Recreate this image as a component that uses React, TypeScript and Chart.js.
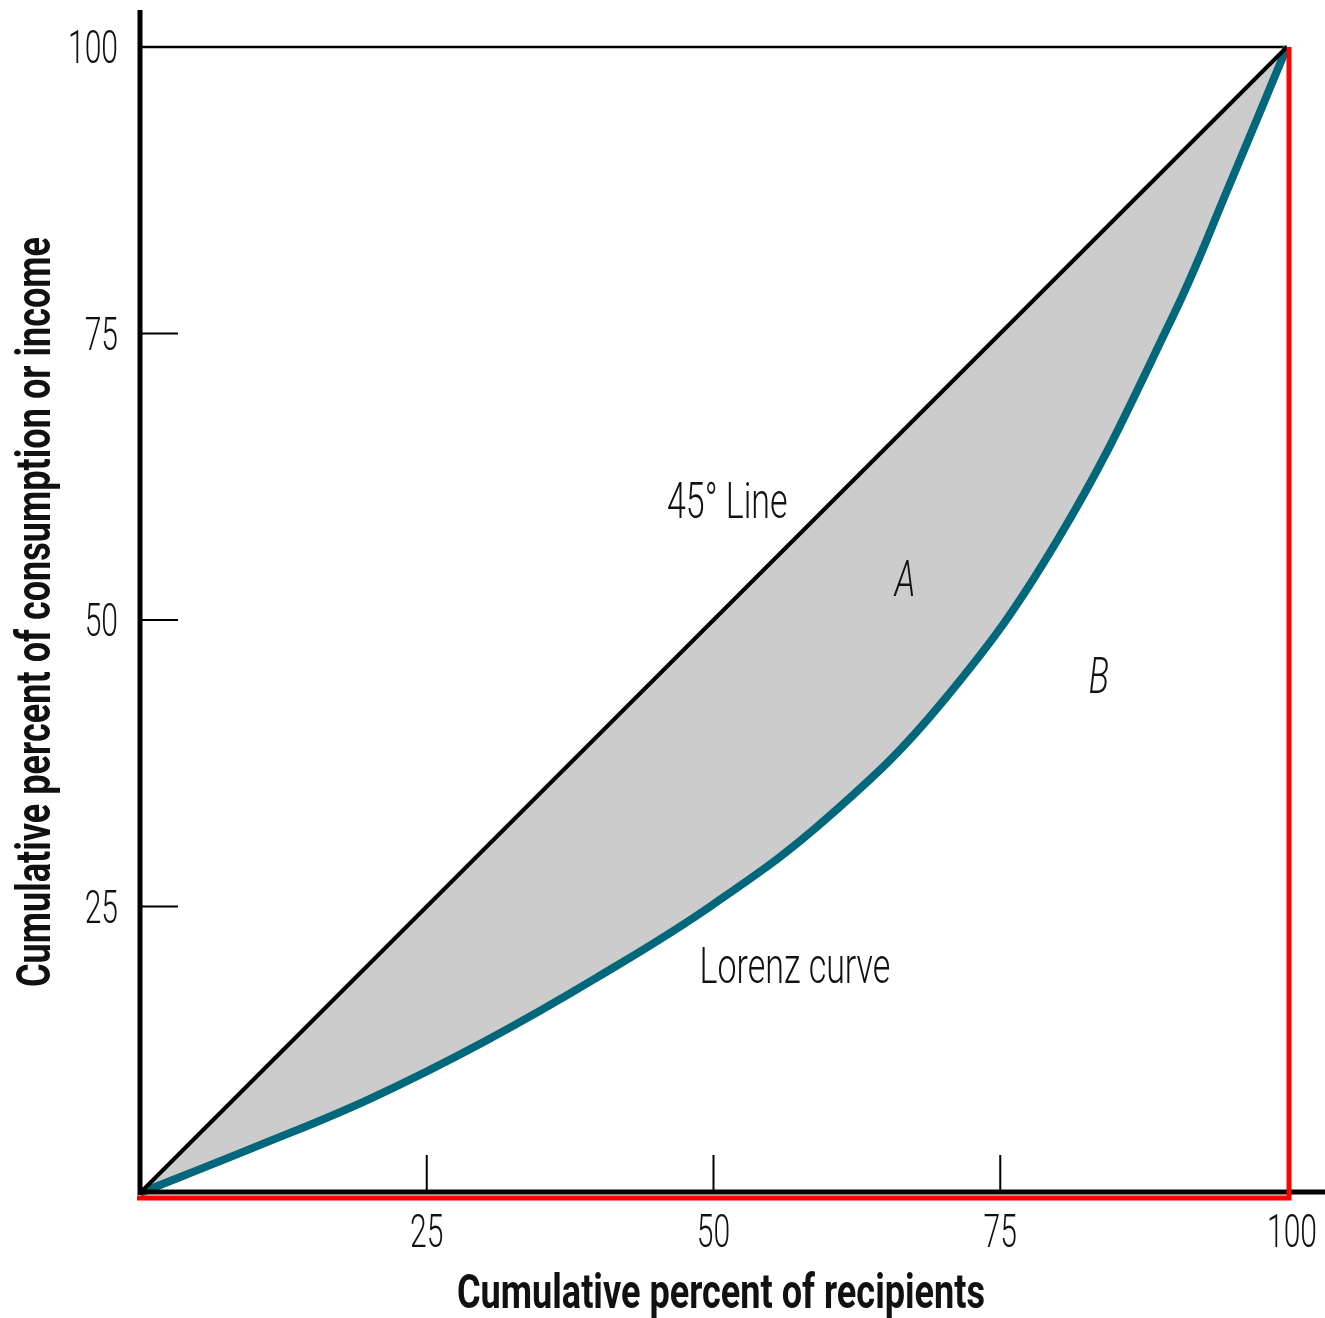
import { useEffect, useRef } from "react";
import { Chart, registerables } from "chart.js";

Chart.register(...registerables);

// ---- data ----
const lorenzX = [0, 10, 20, 30, 40, 50, 60, 70, 80, 90, 95, 100];
const lorenzY = [0, 4.0, 8.2, 13.2, 18.9, 25.2, 32.8, 42.9, 57.0, 76.4, 88.0, 100];
const equalityX = [0, 100];
const equalityY = [0, 100];
const topLineX = [0, 100];
const topLineY = [100, 100];
const xTickValues = [25, 50, 75, 100];
const yTickValues = [25, 50, 75, 100];
const xTitle = "Cumulative percent of recipients";
const yTitle = "Cumulative percent of consumption or income";
const noteTexts = ["45° Line", "A", "B", "Lorenz curve"];
const noteX = [51.2, 66.7, 83.6, 57.1];
const noteY = [60.5, 53.7, 45.2, 19.9];
const noteItalic = [false, true, true, false];

const pts = (xs: number[], ys: number[]) => xs.map((x, i) => ({ x, y: ys[i] }));

const THIN = "Roboto";

const decorPlugin = {
  id: "decor",
  afterDatasetsDraw(chart: any) {
    const { ctx, scales } = chart;
    const xs = scales.x;
    const ys = scales.y;
    const x0 = xs.getPixelForValue(0);
    const x100 = xs.getPixelForValue(100);
    const y0 = ys.getPixelForValue(0);
    const y100 = ys.getPixelForValue(100);
    ctx.save();
    ctx.lineCap = "butt";
    // axes
    ctx.strokeStyle = "#000";
    ctx.lineWidth = 5;
    ctx.beginPath();
    ctx.moveTo(x0, 10);
    ctx.lineTo(x0, y0 + 2);
    ctx.stroke();
    ctx.beginPath();
    ctx.moveTo(x0 - 2, y0 - 1);
    ctx.lineTo(chart.width, y0 - 1);
    ctx.stroke();
    // inner ticks
    ctx.lineWidth = 2;
    yTickValues.forEach((v) => {
      if (v >= 100) return;
      const py = ys.getPixelForValue(v);
      ctx.beginPath();
      ctx.moveTo(x0 + 2, py);
      ctx.lineTo(x0 + 38, py);
      ctx.stroke();
    });
    xTickValues.forEach((v) => {
      if (v >= 100) return;
      const px = xs.getPixelForValue(v);
      ctx.beginPath();
      ctx.moveTo(px, y0 - 3);
      ctx.lineTo(px, y0 - 38);
      ctx.stroke();
    });
    // red frame
    ctx.strokeStyle = "#ff0000";
    ctx.lineWidth = 5;
    ctx.lineJoin = "miter";
    ctx.beginPath();
    ctx.moveTo(x0 - 3, y0 + 5);
    ctx.lineTo(x100 + 2, y0 + 5);
    ctx.lineTo(x100 + 2, y100);
    ctx.stroke();

    // texts
    ctx.fillStyle = "#111";
    ctx.font = `300 46px ${THIN}`;
    const sxThin = 50 / ctx.measureText("100").width;
    ctx.font = `bold 48px ${THIN}`;
    const sxBold = 528 / ctx.measureText(xTitle).width;

    const draw = (
      text: string,
      cx: number,
      by: number,
      font: string,
      sx: number,
      align: CanvasTextAlign,
      rotate = false
    ) => {
      ctx.save();
      ctx.translate(cx, by);
      if (rotate) ctx.rotate(-Math.PI / 2);
      ctx.scale(sx, 1);
      ctx.font = font;
      ctx.textAlign = align;
      ctx.textBaseline = "alphabetic";
      ctx.fillText(text, 0, 0);
      ctx.restore();
    };

    yTickValues.forEach((v) => {
      const py = ys.getPixelForValue(v);
      draw(String(v), 118, py + 16, `300 46px ${THIN}`, sxThin, "right");
    });
    xTickValues.forEach((v) => {
      const px = xs.getPixelForValue(v);
      draw(String(v), px + (v === 100 ? 5 : 0), y0 + 54, `300 46px ${THIN}`, sxThin, "center");
    });
    draw(xTitle, 721, 1308, `bold 48px ${THIN}`, sxBold, "center");
    draw(yTitle, 50, 612, `bold 48px ${THIN}`, sxBold, "center", true);

    noteTexts.forEach((t, i) => {
      const px = xs.getPixelForValue(noteX[i]);
      const py = ys.getPixelForValue(noteY[i]);
      const f = `${noteItalic[i] ? "italic " : ""}300 50px ${THIN}`;
      draw(t, px, py + 18, f, sxThin * 1.04, "center");
    });
    ctx.restore();
  },
};

export default function App() {
  const ref = useRef<HTMLCanvasElement | null>(null);
  useEffect(() => {
    if (!ref.current) return;
    const chart = new Chart(ref.current, {
      type: "line",
      data: {
        datasets: [
          {
            label: "45° Line",
            data: pts(equalityX, equalityY),
            borderColor: "#000",
            borderWidth: 4,
            pointRadius: 0,
            fill: false,
            clip: false as any,
          },
          {
            label: "Lorenz curve",
            data: pts(lorenzX, lorenzY),
            borderColor: "#00687a",
            borderWidth: 8,
            pointRadius: 0,
            tension: 0.4,
            fill: 0 as any,
            backgroundColor: "#cccccc",
            clip: false as any,
          },
          {
            label: "top",
            data: pts(topLineX, topLineY),
            borderColor: "#000",
            borderWidth: 2.5,
            pointRadius: 0,
            fill: false,
            clip: false as any,
          },
        ],
      },
      options: {
        animation: false,
        responsive: false,
        devicePixelRatio: 1,
        layout: { padding: { left: 140, right: 38, top: 47, bottom: 125 } },
        scales: {
          x: { type: "linear", min: 0, max: 100, display: false },
          y: { type: "linear", min: 0, max: 100, display: false },
        },
        plugins: {
          legend: { display: false },
          tooltip: { enabled: false },
          filler: { drawTime: "beforeDatasetsDraw" } as any,
        },
      },
      plugins: [decorPlugin],
    });
    return () => chart.destroy();
  }, []);
  return (
    <div style={{ position: "absolute", left: 0, top: 0, width: 1325, height: 1318, background: "#fff" }}>
      <canvas ref={ref} width={1325} height={1318} style={{ width: 1325, height: 1318, display: "block" }} />
    </div>
  );
}
